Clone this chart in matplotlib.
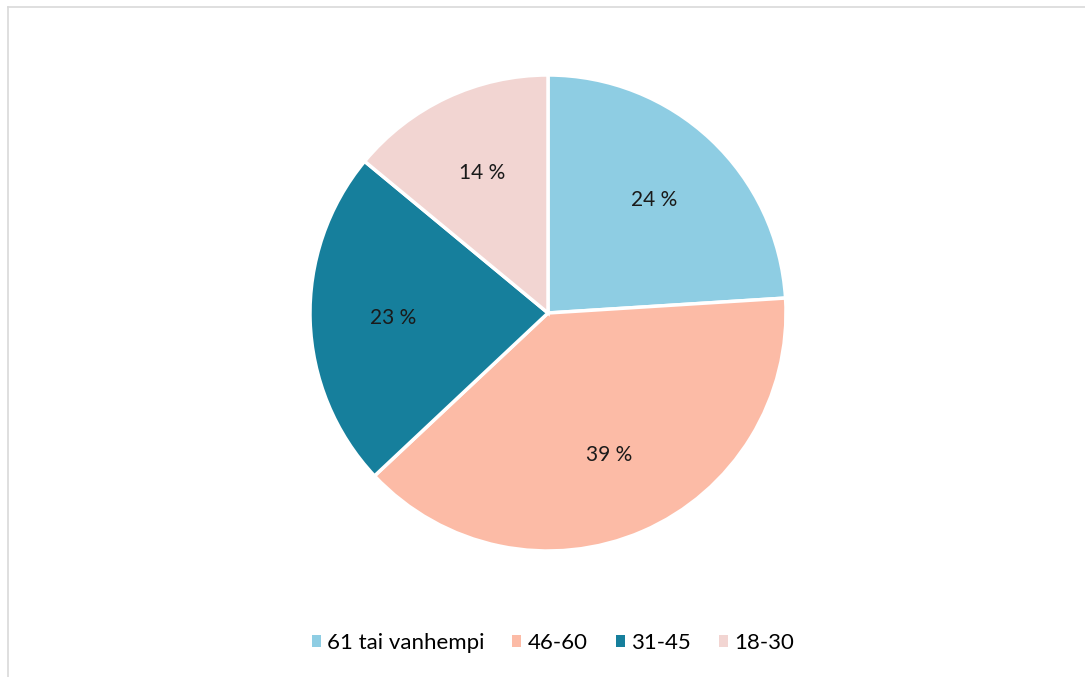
import matplotlib.pyplot as plt
from matplotlib.lines import Line2D
from matplotlib.patches import Patch

labels = ['61 tai vanhempi', '46-60', '31-45', '18-30']
values = [24, 39, 23, 14]
colors = ['#8ecde3', '#fcbba6', '#167f9c', '#f2d5d2']

plt.rcParams['font.family'] = ['Lato', 'DejaVu Sans']

W, H = 1085, 677
fig = plt.figure(figsize=(W / 100, H / 100), dpi=100)
ax = fig.add_axes([0, 0, 1, 1])

# pie in pixel coordinates, clockwise from the top
ax.pie(values, colors=colors, startangle=90, counterclock=False,
       center=(548, H - 313), radius=238, frame=False,
       wedgeprops=dict(edgecolor='white', linewidth=2.5),
       autopct=lambda p: f'{p:.0f} %', pctdistance=0.65,
       textprops=dict(fontsize=15, color='#1a1a1a'))
ax.set_xlim(0, W)
ax.set_ylim(0, H)
ax.set_aspect('equal')
ax.axis('off')

# thin frame on the top and left side
fig.add_artist(Line2D([8 / W, 1], [1 - 7 / H, 1 - 7 / H],
                      transform=fig.transFigure, color='#d9d9d9', lw=1.2))
fig.add_artist(Line2D([8 / W, 8 / W], [0, 1 - 7 / H],
                      transform=fig.transFigure, color='#d9d9d9', lw=1.2))

handles = [Patch(facecolor=c, edgecolor='none') for c in colors]
fig.legend(handles, labels, loc='center', bbox_to_anchor=(553 / W, 1 - 643 / H),
           ncol=4, frameon=False, fontsize=16, handlelength=0.4, handleheight=0.4,
           handletextpad=0.3, columnspacing=1.25, borderpad=0, borderaxespad=0)

fig.savefig('out.png', dpi=100)
